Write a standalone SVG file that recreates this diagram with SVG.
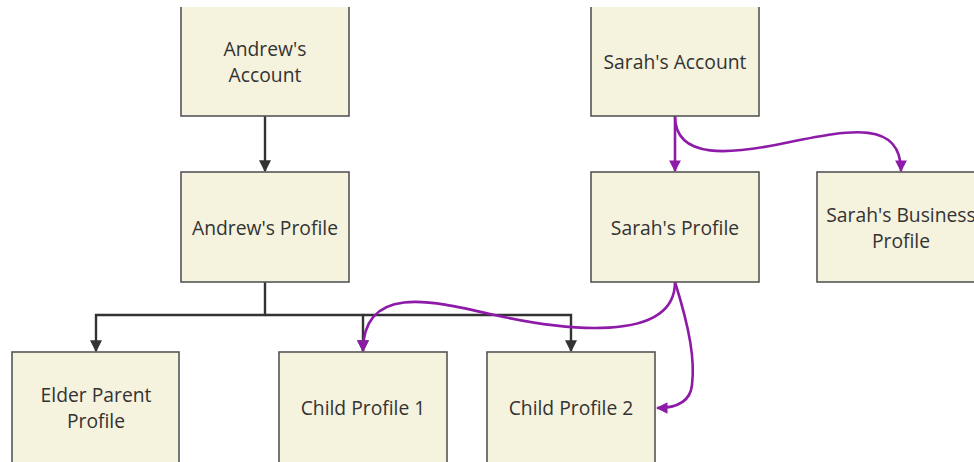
<svg xmlns="http://www.w3.org/2000/svg" width="974" height="462" viewBox="0 0 974 462">
  <style>
    .box { fill: #f5f2de; stroke: #555; stroke-width: 1.6; }
    .lbl { font-family: "Open Sans", "Noto Sans", sans-serif; font-size: 19.3px; fill: #333; text-anchor: middle; }
    .dark { fill: none; stroke: #333; stroke-width: 2.4; }
    .purple { fill: none; stroke: #8e1ba8; stroke-width: 2.6; }
  </style>
  <defs>
    <marker id="arrDark" viewBox="0 0 10 10" refX="9" refY="5" markerWidth="5" markerHeight="5" orient="auto" markerUnits="strokeWidth">
      <path d="M0,0 L10,5 L0,10 z" fill="#333"/>
    </marker>
    <marker id="arrPurple" viewBox="0 0 10 10" refX="9" refY="5" markerWidth="4.5" markerHeight="4.5" orient="auto" markerUnits="strokeWidth">
      <path d="M0,0 L10,5 L0,10 z" fill="#8e1ba8"/>
    </marker>
    <clipPath id="frame"><rect x="0" y="7" width="974" height="455"/></clipPath>
  </defs>
  <rect width="974" height="462" fill="#fff"/>

  <g id="connectors">
    <path class="dark" d="M265,116 L265,171" marker-end="url(#arrDark)"/>
    <path class="dark" d="M265,282 L265,315 L96,315 L96,351" marker-end="url(#arrDark)"/>
    <path class="dark" d="M265,315 L363,315 L363,351" marker-end="url(#arrDark)"/>
    <path class="dark" d="M363,315 L571,315 L571,351" marker-end="url(#arrDark)"/>
    <path class="purple" d="M675,116 L675,171" marker-end="url(#arrPurple)"/>
    <path class="purple" d="M675,116 C675,160 730,155 790,142 C850,130 901,120 901,171" marker-end="url(#arrPurple)"/>
    <path class="purple" d="M675,282 C675,345 560,330 490,314 C430,300 363,285 363,351" marker-end="url(#arrPurple)"/>
    <path class="purple" d="M675,282 C690,330 695,360 692,385 C690,405 672,408 657,408" marker-end="url(#arrPurple)"/>
  </g>

  <g clip-path="url(#frame)">
    <g id="andrews-account">
      <rect class="box" x="181" y="0" width="168" height="116"/>
      <text class="lbl" x="265" y="56">Andrew's</text>
      <text class="lbl" x="265" y="82">Account</text>
    </g>
    <g id="sarahs-account">
      <rect class="box" x="591" y="0" width="168" height="116"/>
      <text class="lbl" x="675" y="69">Sarah's Account</text>
    </g>
  </g>
  <g id="andrews-profile">
    <rect class="box" x="181" y="172" width="168" height="110"/>
    <text class="lbl" x="265" y="235">Andrew's Profile</text>
  </g>
  <g id="sarahs-profile">
    <rect class="box" x="591" y="172" width="168" height="110"/>
    <text class="lbl" x="675" y="235">Sarah's Profile</text>
  </g>
  <g id="sarahs-business-profile">
    <rect class="box" x="817" y="172" width="168" height="110"/>
    <text class="lbl" x="901" y="222">Sarah's Business</text>
    <text class="lbl" x="901" y="248">Profile</text>
  </g>
  <g id="elder-parent-profile">
    <rect class="box" x="12" y="352" width="167" height="120"/>
    <text class="lbl" x="96" y="402">Elder Parent</text>
    <text class="lbl" x="96" y="428">Profile</text>
  </g>
  <g id="child-profile-1">
    <rect class="box" x="279" y="352" width="168" height="120"/>
    <text class="lbl" x="363" y="415">Child Profile 1</text>
  </g>
  <g id="child-profile-2">
    <rect class="box" x="487" y="352" width="168" height="120"/>
    <text class="lbl" x="571" y="415">Child Profile 2</text>
  </g>
</svg>
